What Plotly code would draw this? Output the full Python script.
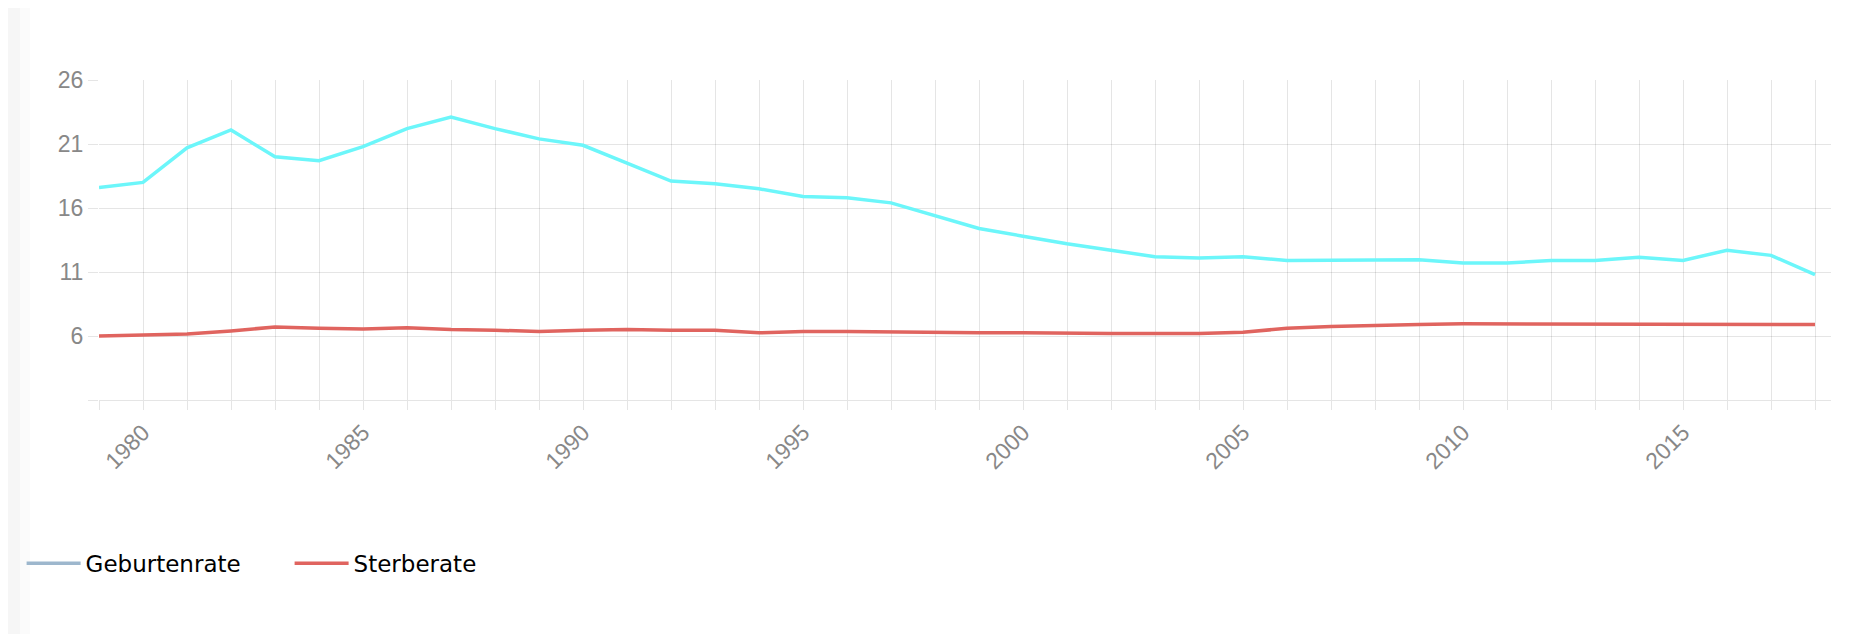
import plotly.graph_objects as go

years = list(range(1979, 2019))
geburtenrate = [17.6, 18.0, 20.7, 22.1, 20.0, 19.7, 20.8, 22.2, 23.1, 22.2,
                21.4, 20.9, 19.5, 18.1, 17.9, 17.5, 16.9, 16.8, 16.4, 15.4,
                14.4, 13.8, 13.2, 12.7, 12.2, 12.1, 12.2, 11.9, 11.9, 11.95,
                11.95, 11.7, 11.7, 11.9, 11.9, 12.15, 11.9, 12.7, 12.3, 10.8]
sterberate = [6.0, 6.1, 6.15, 6.4, 6.7, 6.6, 6.55, 6.65, 6.5, 6.45,
              6.35, 6.45, 6.5, 6.45, 6.45, 6.25, 6.35, 6.35, 6.3, 6.3,
              6.25, 6.25, 6.2, 6.2, 6.2, 6.2, 6.3, 6.6, 6.75, 6.85,
              6.9, 6.95, 6.95, 6.95, 6.95, 6.95, 6.9, 6.9, 6.9, 6.9]
x_tick_years = [1980, 1985, 1990, 1995, 2000, 2005, 2010, 2015]
y_ticks = [1, 6, 11, 16, 21, 26]
y_tick_labels = ["", "6", "11", "16", "21", "26"]

CYAN = "rgb(108,246,250)"
RED = "rgb(224,100,95)"
LEGEND_BLUE = "rgb(157,183,205)"
GRID = "rgba(0,0,0,0.10)"

W, H = 1850, 626
L, R, T, B = 91, 27, 72, 234
PW = W - L - R
PH = H - T - B

fig = go.Figure()
fig.add_trace(go.Scatter(x=years, y=geburtenrate, mode="lines",
                         line=dict(color=CYAN, width=3.5), showlegend=False,
                         name="Geburtenrate"))
fig.add_trace(go.Scatter(x=years, y=sterberate, mode="lines",
                         line=dict(color=RED, width=3.5), showlegend=False,
                         name="Sterberate"))
# legend entries
fig.add_trace(go.Scatter(x=[None], y=[None], mode="lines",
                         line=dict(color=LEGEND_BLUE, width=3.5), name="Geburtenrate"))
fig.add_trace(go.Scatter(x=[None], y=[None], mode="lines",
                         line=dict(color=RED, width=3.5), name="Sterberate"))

fig.update_layout(
    width=W, height=H,
    margin=dict(l=L, r=R, t=T, b=B),
    paper_bgcolor="white", plot_bgcolor="white",
    font=dict(family="Liberation Sans, Arial, sans-serif", size=20, color="#888"),
    legend=dict(orientation="h", x=(13.6 - L) / PW, xanchor="left", y=-0.51, yanchor="middle",
                font=dict(family="DejaVu Sans, Verdana, sans-serif", size=23, color="black"),
                entrywidth=199, entrywidthmode="pixels", itemwidth=54,
                bgcolor="rgba(0,0,0,0)"),
    shapes=[
        dict(type="rect", xref="paper", yref="paper", x0=-L / PW, x1=(12 - L) / PW,
             y0=-B / PH, y1=(PH + T) / PH, fillcolor="#f6f6f6", line_width=0, layer="below"),
        dict(type="rect", xref="paper", yref="paper", x0=(12 - L) / PW, x1=(22 - L) / PW,
             y0=-B / PH, y1=(PH + T) / PH, fillcolor="#fbfbfb", line_width=0, layer="below"),
    ],
)
fig.update_xaxes(
    range=[1979, 2018 + 16 / 44],
    tickvals=years, ticktext=[str(y) if y in x_tick_years else "" for y in years],
    tickangle=-45, showgrid=True, gridcolor=GRID, gridwidth=1,
    ticks="outside", ticklen=9, tickcolor=GRID, zeroline=False,
    showline=True, linecolor=GRID, linewidth=1, tickfont=dict(size=23, color="#888"),
)
fig.update_yaxes(
    range=[1, 26], tickvals=y_ticks, ticktext=y_tick_labels,
    showgrid=True, gridcolor=GRID, gridwidth=1,
    ticks="outside", ticklen=10, tickcolor=GRID, zeroline=False,
    showline=False, tickfont=dict(size=23, color="#888"),
)
fig.write_html("out.html")
